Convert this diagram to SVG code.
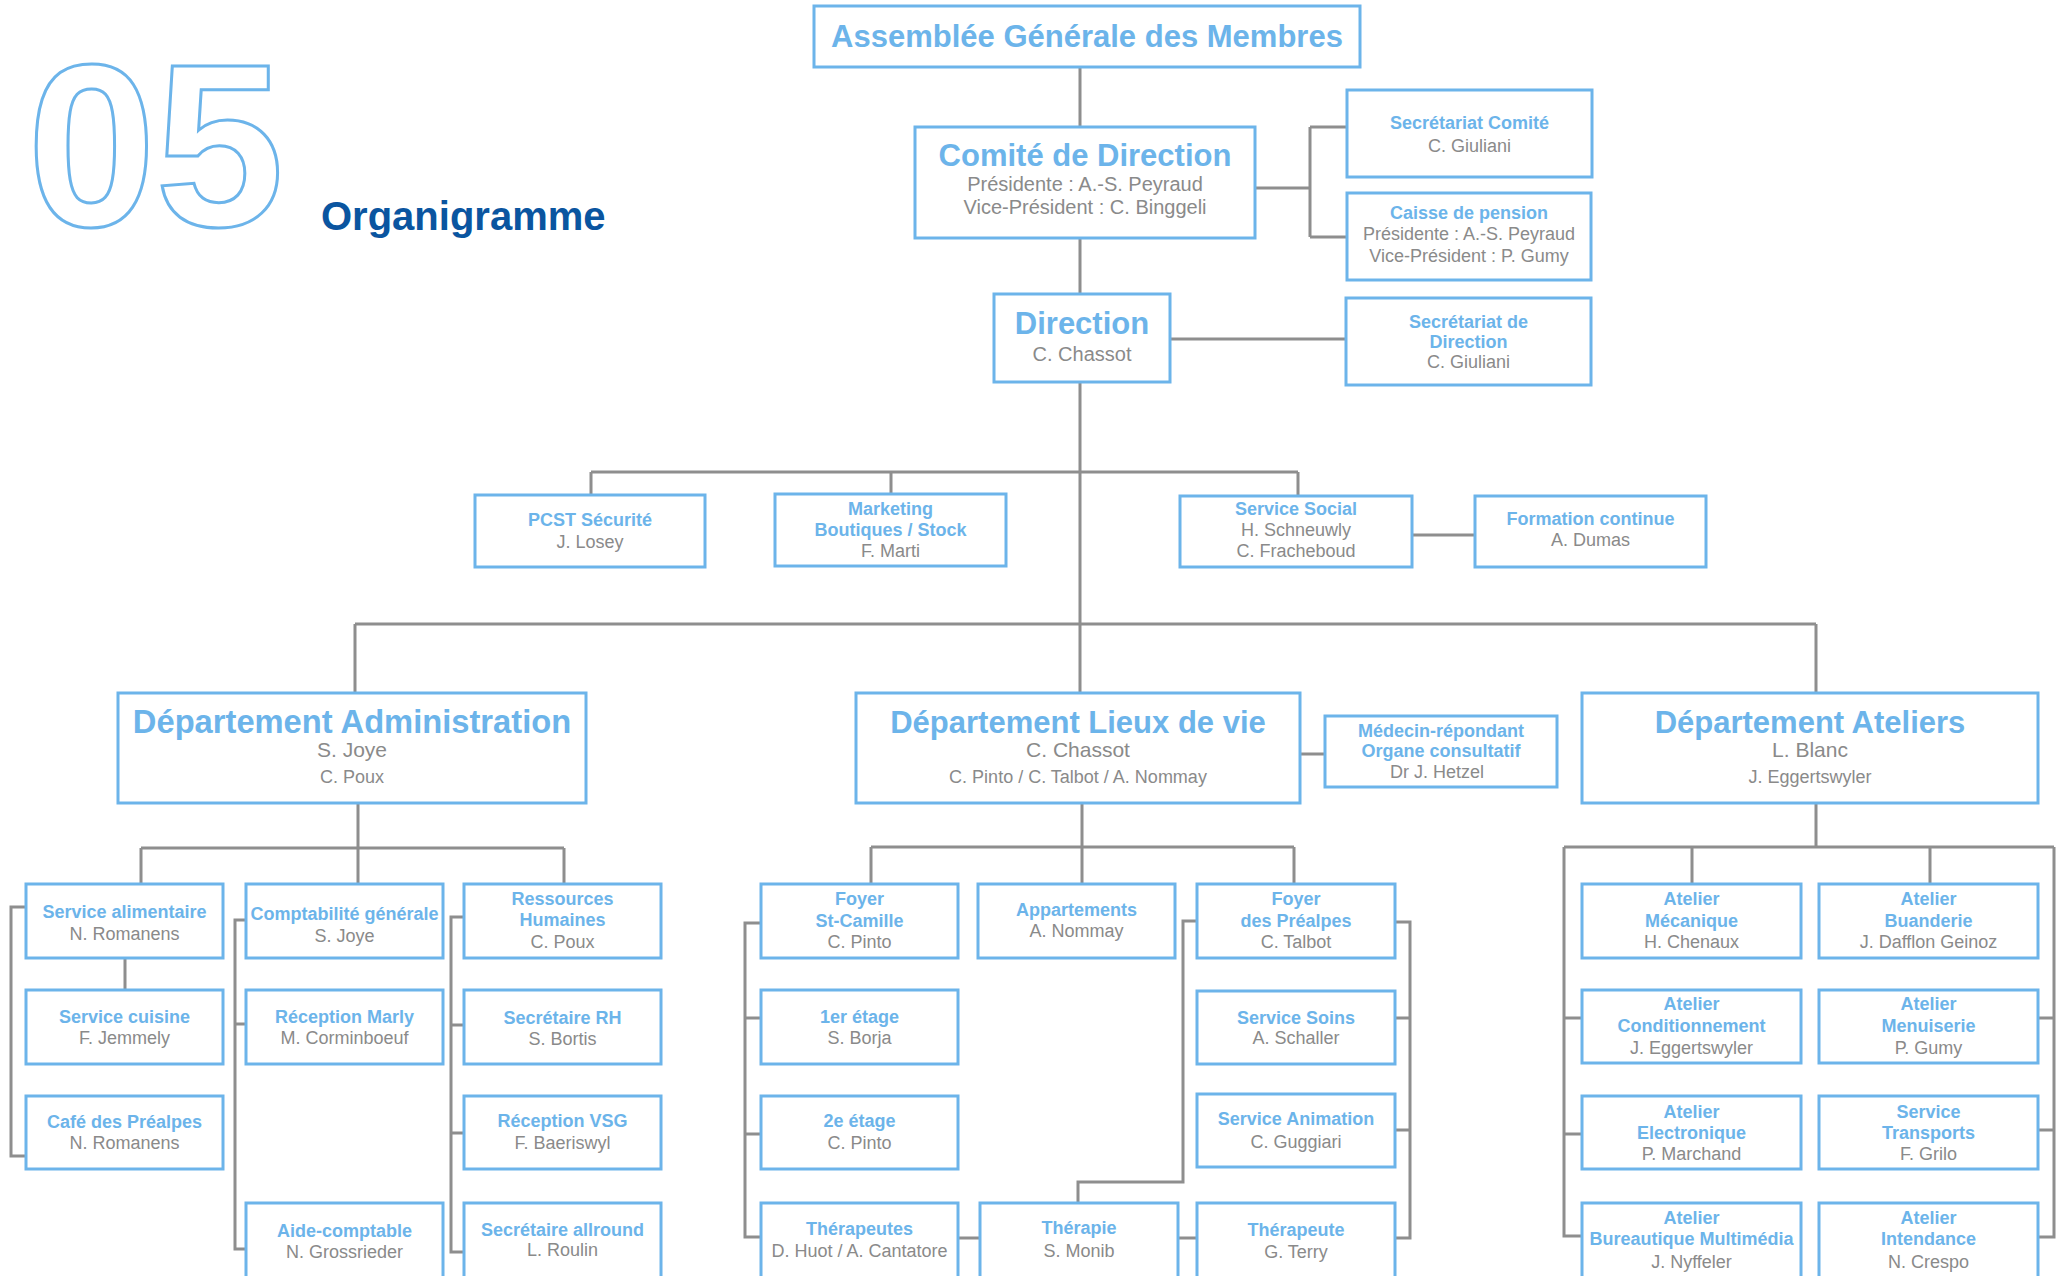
<svg xmlns="http://www.w3.org/2000/svg" width="2063" height="1276" viewBox="0 0 2063 1276">
<style>
.box{fill:#fff;stroke:#6cb4ea;stroke-width:3}
.c{stroke:#8e8e8e;stroke-width:3;fill:none}
text{font-family:"Liberation Sans",Arial,Helvetica,sans-serif;text-anchor:middle}
.t{font-weight:bold;fill:#6cb4ea;font-size:18px}
.n{fill:#8a8a8a;font-size:18px}
.big{font-weight:bold;fill:#6cb4ea;font-size:31px}
.s20{fill:#8a8a8a;font-size:20px}
.s21{fill:#8a8a8a;font-size:21px}
</style>
<rect width="2063" height="1276" fill="#fff"/>
<g id="header">
<text x="27" y="226" style="font-size:232px;font-weight:bold;text-anchor:start;fill:none;stroke:#6cb4ea;stroke-width:3;letter-spacing:-1px">05</text>
<text x="321" y="230" style="font-size:40px;font-weight:bold;text-anchor:start;fill:#0a55a0">Organigramme</text>
</g>
<g id="connectors">
<path class="c" d="M1080 67V127M1080 238V294M1255 188H1310M1310 127V237M1310 127H1347M1310 237H1347M1170 339H1346"/>
<path class="c" d="M1080 382V693M591 472H1298M591 472V495M891 472V494M1298 472V496M1412 535H1475"/>
<path class="c" d="M355 624H1816M355 624V693M1816 624V693M1300 754H1325"/>
<path class="c" d="M358 803V848M141 848H564M141 848V884M358 848V884M564 848V884"/>
<path class="c" d="M26 907H11V1156H26M125 958V990"/>
<path class="c" d="M246 920H235V1249H246M235 1024H246"/>
<path class="c" d="M464 917H451V1252H464M451 1025H464M451 1133H464"/>
<path class="c" d="M1082 803V847M871 847H1294M871 847V884M1082 847V884M1294 847V884"/>
<path class="c" d="M761 923H745V1237H761M745 1018H761M745 1134H761M958 1238H980M1178 1238H1197"/>
<path class="c" d="M1197 921H1183V1182H1078V1203"/>
<path class="c" d="M1395 922H1410V1238H1395M1395 1018H1410M1395 1130H1410"/>
<path class="c" d="M1816 803V847M1564 847H2054M1692 847V884M1930 847V884"/>
<path class="c" d="M1564 847V1236H1582M1564 1018H1582M1564 1134H1582"/>
<path class="c" d="M2054 847V1237H2038M2038 1018H2054M2038 1130H2054"/>
</g>
<g id="agm"><rect class="box" x="814" y="6" width="546" height="61"/><text class="big" x="1087" y="47">Assemblée Générale des Membres</text></g>
<g id="comite"><rect class="box" x="915" y="127" width="340" height="111"/><text class="big" x="1085" y="166">Comité de Direction</text><text class="s20" x="1085" y="191">Présidente : A.-S. Peyraud</text><text class="s20" x="1085" y="214">Vice-Président : C. Binggeli</text></g>
<g id="secr-comite"><rect class="box" x="1347" y="90" width="245" height="87"/><text class="t" x="1469.5" y="129">Secrétariat Comité</text><text class="n" x="1469.5" y="152">C. Giuliani</text></g>
<g id="caisse"><rect class="box" x="1347" y="193" width="244" height="87"/><text class="t" x="1469" y="219">Caisse de pension</text><text class="n" x="1469" y="240">Présidente : A.-S. Peyraud</text><text class="n" x="1469" y="262">Vice-Président : P. Gumy</text></g>
<g id="direction"><rect class="box" x="994" y="294" width="176" height="88"/><text class="big" x="1082" y="334">Direction</text><text class="s20" x="1082" y="361">C. Chassot</text></g>
<g id="secr-direction"><rect class="box" x="1346" y="298" width="245" height="87"/><text class="t" x="1468.5" y="328">Secrétariat de</text><text class="t" x="1468.5" y="348">Direction</text><text class="n" x="1468.5" y="368">C. Giuliani</text></g>
<g id="pcst"><rect class="box" x="475" y="495" width="230" height="72"/><text class="t" x="590" y="526">PCST Sécurité</text><text class="n" x="590" y="548">J. Losey</text></g>
<g id="marketing"><rect class="box" x="775" y="494" width="231" height="72"/><text class="t" x="890.5" y="515">Marketing</text><text class="t" x="890.5" y="536">Boutiques / Stock</text><text class="n" x="890.5" y="557">F. Marti</text></g>
<g id="social"><rect class="box" x="1180" y="496" width="232" height="71"/><text class="t" x="1296" y="515">Service Social</text><text class="n" x="1296" y="536">H. Schneuwly</text><text class="n" x="1296" y="557">C. Fracheboud</text></g>
<g id="formation"><rect class="box" x="1475" y="496" width="231" height="71"/><text class="t" x="1590.5" y="525">Formation continue</text><text class="n" x="1590.5" y="546">A. Dumas</text></g>
<g id="dep-admin"><rect class="box" x="118" y="693" width="468" height="110"/><text class="big" x="352" y="733" style="font-size:32.7px">Département Administration</text><text class="s21" x="352" y="757">S. Joye</text><text class="n" x="352" y="783">C. Poux</text></g>
<g id="dep-lieux"><rect class="box" x="856" y="693" width="444" height="110"/><text class="big" x="1078" y="733">Département Lieux de vie</text><text class="s21" x="1078" y="757">C. Chassot</text><text class="n" x="1078" y="783">C. Pinto / C. Talbot / A. Nommay</text></g>
<g id="medecin"><rect class="box" x="1325" y="716" width="232" height="71"/><text class="t" x="1441" y="737">Médecin-répondant</text><text class="t" x="1441" y="757">Organe consultatif</text><text class="n" x="1437" y="778">Dr J. Hetzel</text></g>
<g id="dep-ateliers"><rect class="box" x="1582" y="693" width="456" height="110"/><text class="big" x="1810" y="733">Département Ateliers</text><text class="s21" x="1810" y="757">L. Blanc</text><text class="n" x="1810" y="783">J. Eggertswyler</text></g>
<g id="service-alimentaire"><rect class="box" x="26" y="884" width="197" height="74"/><text class="t" x="124.5" y="918">Service alimentaire</text><text class="n" x="124.5" y="940">N. Romanens</text></g>
<g id="service-cuisine"><rect class="box" x="26" y="990" width="197" height="74"/><text class="t" x="124.5" y="1023">Service cuisine</text><text class="n" x="124.5" y="1044">F. Jemmely</text></g>
<g id="cafe"><rect class="box" x="26" y="1096" width="197" height="73"/><text class="t" x="124.5" y="1128">Café des Préalpes</text><text class="n" x="124.5" y="1149">N. Romanens</text></g>
<g id="comptabilite"><rect class="box" x="246" y="884" width="197" height="74"/><text class="t" x="344.5" y="920">Comptabilité générale</text><text class="n" x="344.5" y="942">S. Joye</text></g>
<g id="reception-marly"><rect class="box" x="246" y="990" width="197" height="74"/><text class="t" x="344.5" y="1023">Réception Marly</text><text class="n" x="344.5" y="1044">M. Corminboeuf</text></g>
<g id="aide-comptable"><rect class="box" x="246" y="1203" width="197" height="90"/><text class="t" x="344.5" y="1237">Aide-comptable</text><text class="n" x="344.5" y="1258">N. Grossrieder</text></g>
<g id="rh"><rect class="box" x="464" y="884" width="197" height="74"/><text class="t" x="562.5" y="905">Ressources</text><text class="t" x="562.5" y="926">Humaines</text><text class="n" x="562.5" y="948">C. Poux</text></g>
<g id="secretaire-rh"><rect class="box" x="464" y="990" width="197" height="74"/><text class="t" x="562.5" y="1024">Secrétaire RH</text><text class="n" x="562.5" y="1045">S. Bortis</text></g>
<g id="reception-vsg"><rect class="box" x="464" y="1096" width="197" height="73"/><text class="t" x="562.5" y="1127">Réception VSG</text><text class="n" x="562.5" y="1149">F. Baeriswyl</text></g>
<g id="secretaire-allround"><rect class="box" x="464" y="1203" width="197" height="90"/><text class="t" x="562.5" y="1236">Secrétaire allround</text><text class="n" x="562.5" y="1256">L. Roulin</text></g>
<g id="st-camille"><rect class="box" x="761" y="884" width="197" height="74"/><text class="t" x="859.5" y="905">Foyer</text><text class="t" x="859.5" y="927">St-Camille</text><text class="n" x="859.5" y="948">C. Pinto</text></g>
<g id="etage1"><rect class="box" x="761" y="990" width="197" height="74"/><text class="t" x="859.5" y="1023">1er étage</text><text class="n" x="859.5" y="1044">S. Borja</text></g>
<g id="etage2"><rect class="box" x="761" y="1096" width="197" height="73"/><text class="t" x="859.5" y="1127">2e étage</text><text class="n" x="859.5" y="1149">C. Pinto</text></g>
<g id="therapeutes"><rect class="box" x="761" y="1203" width="197" height="90"/><text class="t" x="859.5" y="1235">Thérapeutes</text><text class="n" x="859.5" y="1257">D. Huot / A. Cantatore</text></g>
<g id="appartements"><rect class="box" x="978" y="884" width="197" height="74"/><text class="t" x="1076.5" y="916">Appartements</text><text class="n" x="1076.5" y="937">A. Nommay</text></g>
<g id="therapie"><rect class="box" x="980" y="1203" width="198" height="90"/><text class="t" x="1079" y="1234">Thérapie</text><text class="n" x="1079" y="1257">S. Monib</text></g>
<g id="prealpes"><rect class="box" x="1197" y="884" width="198" height="74"/><text class="t" x="1296" y="905">Foyer</text><text class="t" x="1296" y="927">des Préalpes</text><text class="n" x="1296" y="948">C. Talbot</text></g>
<g id="soins"><rect class="box" x="1197" y="991" width="198" height="73"/><text class="t" x="1296" y="1024">Service Soins</text><text class="n" x="1296" y="1044">A. Schaller</text></g>
<g id="animation"><rect class="box" x="1197" y="1094" width="198" height="73"/><text class="t" x="1296" y="1125">Service Animation</text><text class="n" x="1296" y="1148">C. Guggiari</text></g>
<g id="therapeute"><rect class="box" x="1197" y="1203" width="198" height="90"/><text class="t" x="1296" y="1236">Thérapeute</text><text class="n" x="1296" y="1258">G. Terry</text></g>
<g id="mecanique"><rect class="box" x="1582" y="884" width="219" height="74"/><text class="t" x="1691.5" y="905">Atelier</text><text class="t" x="1691.5" y="927">Mécanique</text><text class="n" x="1691.5" y="948">H. Chenaux</text></g>
<g id="buanderie"><rect class="box" x="1819" y="884" width="219" height="74"/><text class="t" x="1928.5" y="905">Atelier</text><text class="t" x="1928.5" y="927">Buanderie</text><text class="n" x="1928.5" y="948">J. Dafflon Geinoz</text></g>
<g id="conditionnement"><rect class="box" x="1582" y="990" width="219" height="73"/><text class="t" x="1691.5" y="1010">Atelier</text><text class="t" x="1691.5" y="1032">Conditionnement</text><text class="n" x="1691.5" y="1054">J. Eggertswyler</text></g>
<g id="menuiserie"><rect class="box" x="1819" y="990" width="219" height="73"/><text class="t" x="1928.5" y="1010">Atelier</text><text class="t" x="1928.5" y="1032">Menuiserie</text><text class="n" x="1928.5" y="1054">P. Gumy</text></g>
<g id="electronique"><rect class="box" x="1582" y="1096" width="219" height="73"/><text class="t" x="1691.5" y="1118">Atelier</text><text class="t" x="1691.5" y="1139">Electronique</text><text class="n" x="1691.5" y="1160">P. Marchand</text></g>
<g id="transports"><rect class="box" x="1819" y="1096" width="219" height="73"/><text class="t" x="1928.5" y="1118">Service</text><text class="t" x="1928.5" y="1139">Transports</text><text class="n" x="1928.5" y="1160">F. Grilo</text></g>
<g id="bureautique"><rect class="box" x="1582" y="1203" width="219" height="90"/><text class="t" x="1691.5" y="1224">Atelier</text><text class="t" x="1691.5" y="1245">Bureautique Multimédia</text><text class="n" x="1691.5" y="1268">J. Nyffeler</text></g>
<g id="intendance"><rect class="box" x="1819" y="1203" width="219" height="90"/><text class="t" x="1928.5" y="1224">Atelier</text><text class="t" x="1928.5" y="1245">Intendance</text><text class="n" x="1928.5" y="1268">N. Crespo</text></g>
</svg>
